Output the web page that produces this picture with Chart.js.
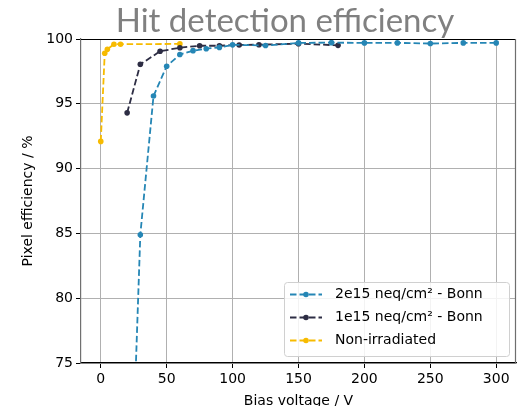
<!DOCTYPE html>
<html>
<head>
<meta charset="utf-8">
<script src="https://cdn.jsdelivr.net/npm/chart.js@4"></script>
<style>
html,body{margin:0;padding:0;background:#fff;}
#wrap{width:522px;height:406px;}
</style>
</head>
<body>
<div id="wrap"><canvas id="c" width="522" height="406"></canvas></div>
<script>
const titleText = "Hit detection efficiency";
const xLabel = "Bias voltage / V";
const yLabel = "Pixel efficiency / %";
const xTicks = [0, 50, 100, 150, 200, 250, 300];
const yTicks = [75, 80, 85, 90, 95, 100];

const labels2e15 = "2e15 neq/cm² - Bonn";
const v2e15 = [25, 30, 40, 50, 60, 70, 80, 90, 100, 125, 150, 175, 200, 225, 250, 275, 300];
const e2e15 = [70.0, 84.9, 95.6, 97.9, 98.8, 99.1, 99.25, 99.35, 99.55, 99.5, 99.7, 99.72, 99.7, 99.7, 99.65, 99.7, 99.7];

const labels1e15 = "1e15 neq/cm² - Bonn";
const v1e15 = [20, 30, 45, 60, 75, 90, 105, 120, 150, 180];
const e1e15 = [94.3, 98.05, 99.05, 99.33, 99.48, 99.48, 99.54, 99.56, 99.64, 99.51];

const labelsNon = "Non-irradiated";
const vNon = [0, 3, 5, 10, 15, 60];
const eNon = [92.1, 98.9, 99.2, 99.6, 99.6, 99.62];

const colors = ['#2586b5', '#2d2d44', '#f7bb00'];

function pts(xs, ys){ return xs.map((x,i)=>({x:x, y:ys[i]})); }

function ds(label, xs, ys, color){
  return {
    label: label, data: pts(xs, ys), showLine: true,
    borderColor: color, backgroundColor: color,
    borderWidth: 1.8, borderDash: [6.5, 3],
    pointRadius: 2.8, pointHoverRadius: 2.8, pointBorderWidth: 0,
    pointBackgroundColor: color
  };
}

const FONT = 'DejaVu Sans';

const extras = {
  id: 'extras',
  afterDraw(chart){
    const ctx = chart.ctx;
    const a = chart.chartArea;
    ctx.save();
    // spines
    ctx.lineWidth = 1.2;
    ctx.strokeStyle = '#000';
    ctx.beginPath(); ctx.moveTo(a.left, a.top+0.5); ctx.lineTo(a.right, a.top+0.5); ctx.stroke();
    ctx.strokeStyle = '#6e6e6e';
    ctx.beginPath(); ctx.moveTo(a.right-0.5, a.top); ctx.lineTo(a.right-0.5, a.bottom); ctx.stroke();
    // title
    ctx.fillStyle = '#808080';
    ctx.font = '33px Lato';
    ctx.textAlign = 'center';
    ctx.textBaseline = 'alphabetic';
    ctx.fillText(titleText, 285, 32);
    // legend
    const lx = 284, ly = 282, lw = 225, lh = 74;
    ctx.fillStyle = 'rgba(255,255,255,0.85)';
    ctx.strokeStyle = '#d0d0d0';
    ctx.lineWidth = 1;
    ctx.beginPath();
    if (ctx.roundRect) ctx.roundRect(lx+0.5, ly+0.5, lw, lh, 3); else ctx.rect(lx+0.5, ly+0.5, lw, lh);
    ctx.fill(); ctx.stroke();
    const rows = [294.5, 317.5, 340.5];
    chart.data.datasets.forEach((d, i) => {
      const y = rows[i];
      ctx.strokeStyle = d.borderColor;
      ctx.lineWidth = 1.8;
      ctx.setLineDash([6.5, 3]);
      ctx.beginPath(); ctx.moveTo(290, y); ctx.lineTo(322, y); ctx.stroke();
      ctx.setLineDash([]);
      ctx.fillStyle = d.borderColor;
      ctx.beginPath(); ctx.arc(306, y, 2.8, 0, Math.PI*2); ctx.fill();
      ctx.fillStyle = '#000';
      ctx.font = '14px ' + FONT;
      ctx.textAlign = 'left';
      ctx.textBaseline = 'middle';
      ctx.fillText(d.label, 335, y);
    });
    ctx.restore();
  }
};

new Chart(document.getElementById('c'), {
  type: 'scatter',
  data: {
    datasets: [
      ds(labels2e15, v2e15, e2e15, colors[0]),
      ds(labels1e15, v1e15, e1e15, colors[1]),
      ds(labelsNon, vNon, eNon, colors[2])
    ]
  },
  options: {
    responsive: false,
    animation: false,
    devicePixelRatio: 1,
    layout: { padding: { left: 0, right: 6, top: 39, bottom: 0 } },
    plugins: { legend: { display: false }, title: { display: false }, tooltip: { enabled: false } },
    scales: {
      x: {
        type: 'linear', min: -15, max: 315,
        afterBuildTicks(s){ s.ticks = xTicks.map(v => ({value: v})); },
        afterFit(s){ s.height = 43; },
        grid: { color: '#b0b0b0', lineWidth: 1, drawTicks: true, tickLength: 5, tickColor: '#000', tickWidth: 1 },
        border: { color: '#000', width: 1.2 },
        ticks: { font: { family: FONT, size: 14 }, color: '#000', padding: 3, maxRotation: 0, autoSkip: false },
        title: { display: true, text: xLabel, font: { family: FONT, size: 14 }, color: '#000', padding: { top: 0, bottom: -4 } }
      },
      y: {
        type: 'linear', min: 75, max: 100,
        afterBuildTicks(s){ s.ticks = yTicks.map(v => ({value: v})); },
        afterFit(s){ s.width = 81; },
        grid: { color: '#b0b0b0', lineWidth: 1, drawTicks: true, tickLength: 5, tickColor: '#000', tickWidth: 1 },
        border: { color: '#707070', width: 1.2 },
        ticks: { font: { family: FONT, size: 14 }, color: '#000', padding: 3, autoSkip: false },
        title: { display: true, text: yLabel, font: { family: FONT, size: 14 }, color: '#000', padding: { top: 20, bottom: 0 } }
      }
    }
  },
  plugins: [extras]
});
</script>
</body>
</html>
